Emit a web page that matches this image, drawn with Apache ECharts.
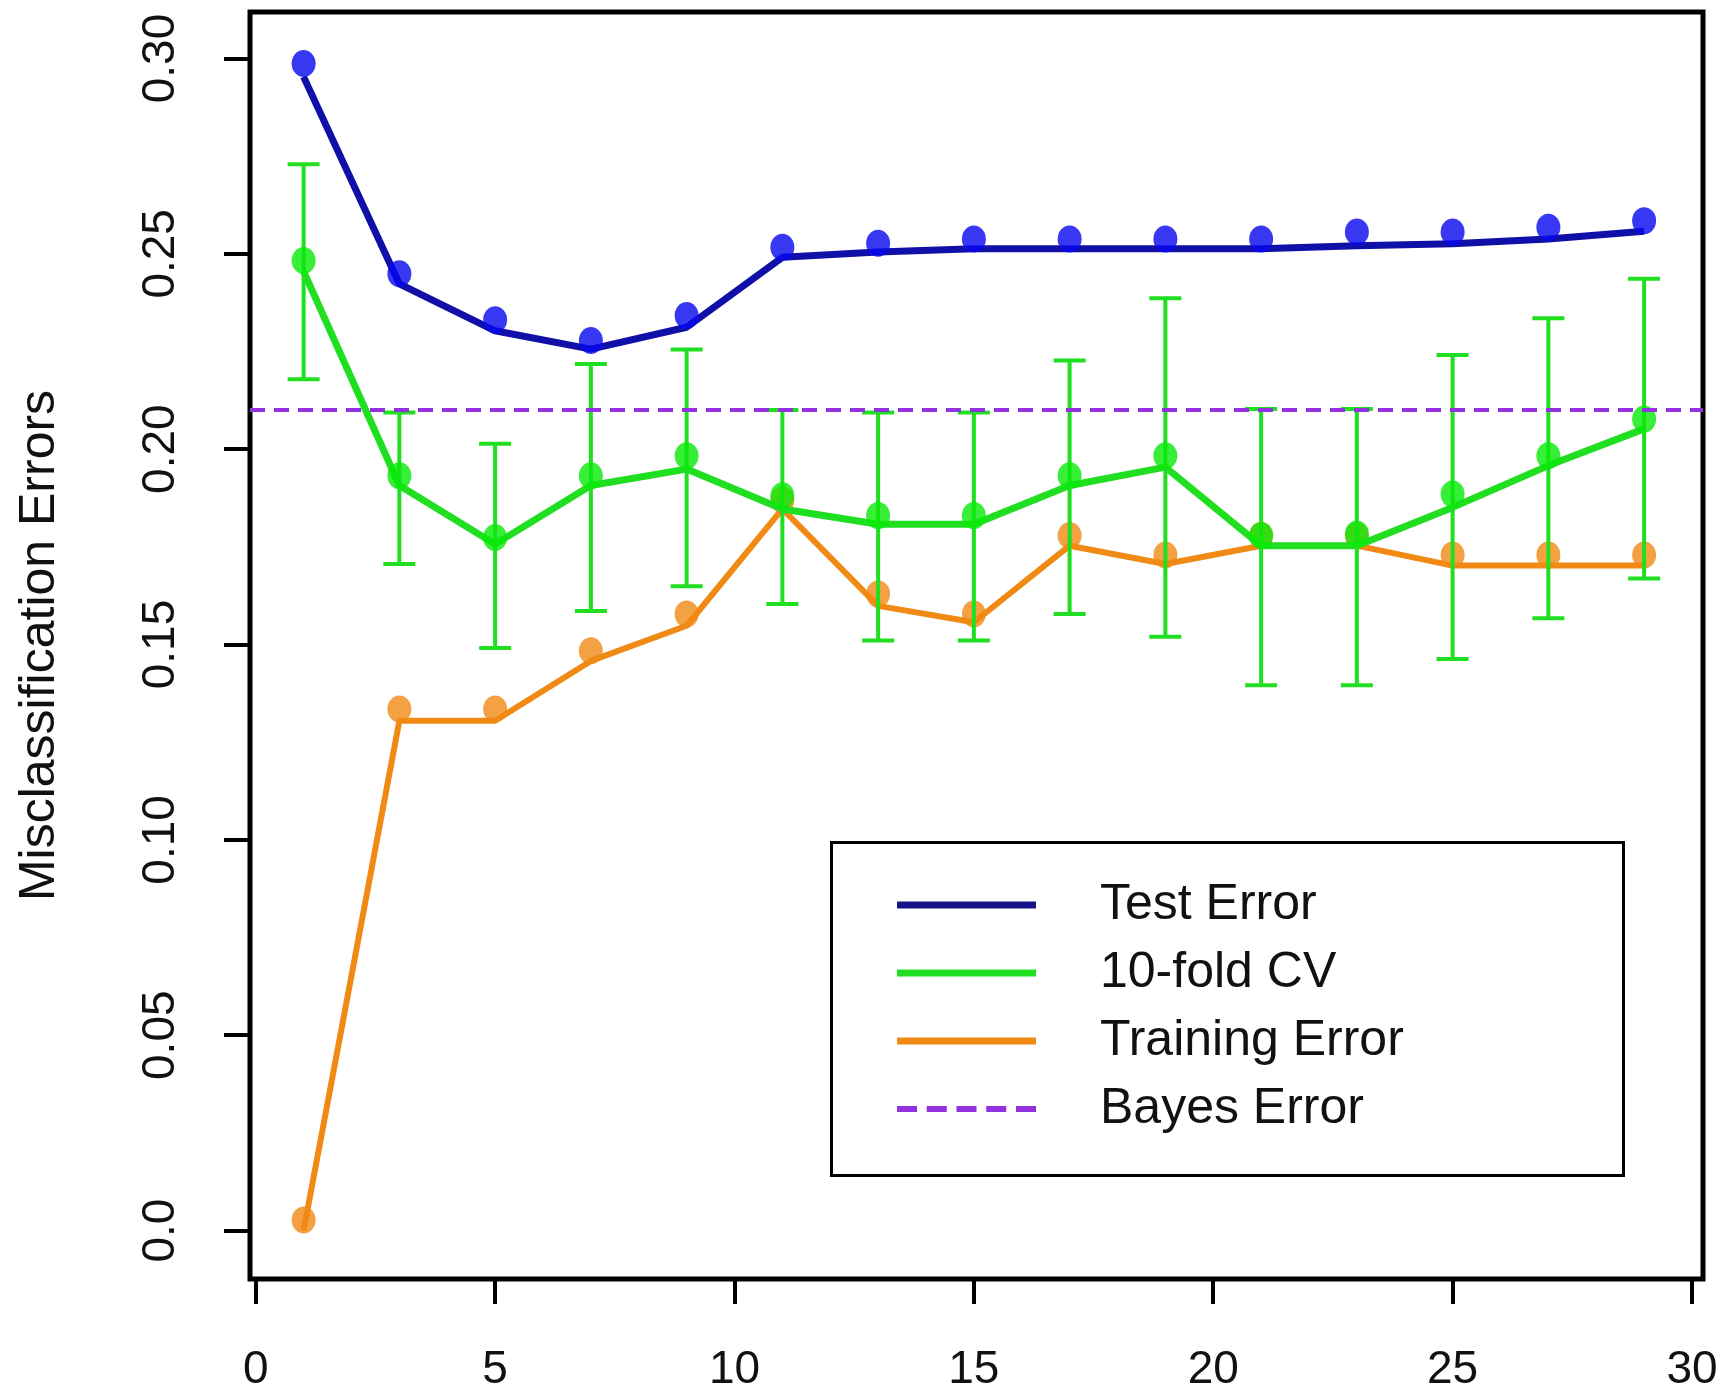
<!DOCTYPE html>
<html>
<head>
<meta charset="utf-8">
<script src="https://cdn.jsdelivr.net/npm/echarts@6/dist/echarts.min.js"></script>
<style>
  html, body { margin: 0; padding: 0; background: #ffffff; }
  #chart { width: 1726px; height: 1397px; }
</style>
</head>
<body>
<div id="chart"></div>
<script>
// ---- data ----
const neighbors = [1, 3, 5, 7, 9, 11, 13, 15, 17, 19, 21, 23, 25, 27, 29];
const testLine  = [0.2953, 0.2423, 0.2303, 0.2256, 0.2312, 0.2491, 0.2505, 0.2513, 0.2513, 0.2513, 0.2513, 0.2521, 0.2526, 0.2538, 0.2558];
const testPts   = [0.2987, 0.2449, 0.2331, 0.2278, 0.2342, 0.2517, 0.2527, 0.2538, 0.2538, 0.2538, 0.2538, 0.2556, 0.2556, 0.2568, 0.2585];
const cvLine    = [0.2455, 0.1907, 0.1757, 0.1907, 0.1949, 0.1847, 0.1808, 0.1808, 0.1907, 0.1954, 0.1753, 0.1753, 0.1851, 0.1958, 0.2052];
const cvPts     = [0.2483, 0.1932, 0.1774, 0.1932, 0.1983, 0.1881, 0.1830, 0.1830, 0.1932, 0.1983, 0.1779, 0.1783, 0.1885, 0.1983, 0.2077];
const cvLow     = [0.2179, 0.1706, 0.1491, 0.1586, 0.1649, 0.1604, 0.1510, 0.1510, 0.1578, 0.1520, 0.1396, 0.1396, 0.1463, 0.1567, 0.1669];
const cvHigh    = [0.2729, 0.2094, 0.2014, 0.2218, 0.2255, 0.2100, 0.2094, 0.2094, 0.2227, 0.2386, 0.2103, 0.2103, 0.2241, 0.2335, 0.2436];
const trainLine = [0.0000, 0.1305, 0.1305, 0.1458, 0.1548, 0.1847, 0.1599, 0.1557, 0.1753, 0.1706, 0.1753, 0.1753, 0.1702, 0.1702, 0.1702];
const trainPts  = [0.0027, 0.1335, 0.1335, 0.1484, 0.1578, 0.1870, 0.1629, 0.1578, 0.1779, 0.1729, 0.1779, 0.1779, 0.1729, 0.1729, 0.1729];
const bayesError = 0.2103;

const xTicks = [0, 5, 10, 15, 20, 25, 30];
const xTickLabels = ['0', '5', '10', '15', '20', '25', '30'];
const yTicks = [0, 0.05, 0.10, 0.15, 0.20, 0.25, 0.30];
const yTickLabels = ['0.0', '0.05', '0.10', '0.15', '0.20', '0.25', '0.30'];
const yTitle = 'Misclassification Errors';
const seriesNames = ['Test Error', '10-fold CV', 'Training Error', 'Bayes Error'];

// ---- styling ----
const FONT = 'Liberation Sans, Arial, sans-serif';
const C_BLUE_LINE = '#1010a8';
const C_BLUE_PT = '#0606f0';
const C_GREEN_LINE = '#20de20';
const C_GREEN_PT = '#08ea08';
const C_ORANGE = '#f08a14';
const C_PURPLE = '#9231e0';

function pairs(xs, ys) { return xs.map((x, i) => [x, ys[i]]); }

const chart = echarts.init(document.getElementById('chart'), null, { renderer: 'canvas' });

const option = {
  backgroundColor: '#ffffff',
  animation: false,
  grid: {
    left: 250, right: 23, top: 12, bottom: 118,
    show: true, borderColor: '#000', borderWidth: 5, backgroundColor: 'transparent'
  },
  xAxis: {
    type: 'value', min: -0.12, max: 30.23,
    axisLine: { show: false, onZero: false },
    splitLine: { show: false },
    axisTick: { show: true, inside: false, length: 25, customValues: xTicks, lineStyle: { color: '#000', width: 4 } },
    axisLabel: {
      show: true, customValues: xTicks, margin: 68,
      fontFamily: FONT, fontSize: 46, color: '#111',
      formatter: v => xTickLabels[xTicks.indexOf(v)]
    }
  },
  yAxis: {
    type: 'value', min: -0.0124, max: 0.3119,
    name: yTitle, nameLocation: 'middle', nameRotate: 90, nameGap: 185,
    nameTextStyle: { fontFamily: FONT, fontSize: 50, color: '#111' },
    axisLine: { show: false, onZero: false },
    splitLine: { show: false },
    axisTick: { show: true, inside: false, length: 26, customValues: yTicks, lineStyle: { color: '#000', width: 4 } },
    axisLabel: {
      show: true, customValues: yTicks, rotate: 90, margin: 66,
      fontFamily: FONT, fontSize: 46, color: '#111',
      formatter: v => yTickLabels[yTicks.indexOf(v)]
    }
  },
  legend: {
    orient: 'vertical', left: 892, top: 875,
    itemWidth: 139, itemHeight: 7, itemGap: 18,
    textStyle: { fontFamily: FONT, fontSize: 50, lineHeight: 50, color: '#111', padding: [0, 0, 0, 59] },
    selectedMode: false,
    data: [
      { name: seriesNames[0], icon: 'rect', itemStyle: { color: '#141488' } },
      { name: seriesNames[1], icon: 'rect', itemStyle: { color: C_GREEN_LINE } },
      { name: seriesNames[2], icon: 'rect', itemStyle: { color: C_ORANGE } },
      { name: seriesNames[3], icon: 'path://M0,0h20v6h-20z M29.75,0h20v6h-20z M59.5,0h20v6h-20z M89.25,0h20v6h-20z M119,0h20v6h-20z', itemStyle: { color: C_PURPLE } }
    ]
  },
  graphic: [{
    type: 'rect', left: 829, top: 840, silent: true, z: 10,
    shape: { width: 792, height: 333 },
    style: { fill: 'none', stroke: '#000', lineWidth: 3 }
  }],
  series: [
    {
      name: seriesNames[2], type: 'line', data: pairs(neighbors, trainLine),
      symbol: 'none', lineStyle: { color: C_ORANGE, width: 6 }, itemStyle: { color: C_ORANGE }, z: 2
    },
    {
      name: 'Training points', type: 'scatter', data: pairs(neighbors, trainPts),
      symbol: 'circle', symbolSize: [24, 27], itemStyle: { color: C_ORANGE }, z: 2
    },
    {
      name: 'CV error bars', type: 'custom', z: 3,
      data: neighbors.map((x, i) => [x, cvLow[i], cvHigh[i]]),
      renderItem: function (params, api) {
        const x = api.value(0);
        const lo = api.coord([x, api.value(1)]);
        const hi = api.coord([x, api.value(2)]);
        const cap = 16;
        const st = { stroke: C_GREEN_LINE, lineWidth: 4 };
        return {
          type: 'group',
          children: [
            { type: 'line', shape: { x1: lo[0], y1: lo[1], x2: hi[0], y2: hi[1] }, style: st },
            { type: 'line', shape: { x1: lo[0] - cap, y1: lo[1], x2: lo[0] + cap, y2: lo[1] }, style: st },
            { type: 'line', shape: { x1: hi[0] - cap, y1: hi[1], x2: hi[0] + cap, y2: hi[1] }, style: st }
          ]
        };
      }
    },
    {
      name: seriesNames[1], type: 'line', data: pairs(neighbors, cvLine),
      symbol: 'none', lineStyle: { color: C_GREEN_LINE, width: 7 }, itemStyle: { color: C_GREEN_LINE }, z: 4
    },
    {
      name: 'CV points', type: 'scatter', data: pairs(neighbors, cvPts),
      symbol: 'circle', symbolSize: [24, 27], itemStyle: { color: C_GREEN_PT }, z: 4
    },
    {
      name: seriesNames[0], type: 'line', data: pairs(neighbors, testLine),
      symbol: 'none', lineStyle: { color: C_BLUE_LINE, width: 7 }, itemStyle: { color: C_BLUE_LINE }, z: 5
    },
    {
      name: 'Test points', type: 'scatter', data: pairs(neighbors, testPts),
      symbol: 'circle', symbolSize: [24, 27], itemStyle: { color: C_BLUE_PT }, z: 5
    },
    {
      name: seriesNames[3], type: 'line', data: [], z: 6,
      itemStyle: { color: C_PURPLE }, lineStyle: { color: C_PURPLE },
      markLine: {
        silent: true, symbol: 'none', animation: false,
        label: { show: false },
        lineStyle: { color: C_PURPLE, width: 4, type: [15, 9] },
        data: [{ yAxis: bayesError }]
      }
    }
  ]
};

chart.setOption(option);
</script>
</body>
</html>
